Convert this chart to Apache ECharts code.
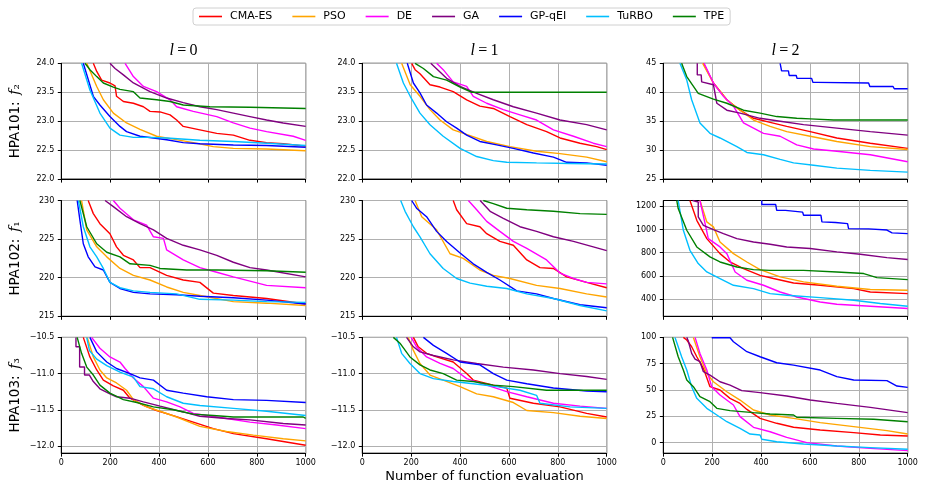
<!DOCTYPE html>
<html>
<head>
<meta charset="utf-8">
<script src="https://cdn.jsdelivr.net/npm/echarts@6/dist/echarts.min.js"></script>
<style>
  html, body { margin: 0; padding: 0; background: #fff; }
  #main { width: 927px; height: 494px; }
</style>
</head>
<body>
<div id="main"></div>
<script>
// methods, in plotting order
const methods = ["CMA-ES", "PSO", "DE", "GA", "GP-qEI", "TuRBO", "TPE"];
const colors = ["#ff0000", "#ffa500", "#ff00ff", "#800080", "#0000ff", "#00bfff", "#008000"];

const colTitles = ["0", "1", "2"];
const rowNames = ["HPA101:", "HPA102:", "HPA103:"];
const rowSubs = ["\u2082", "\u2081", "\u2083"];
const xTicks = [0, 200, 400, 600, 800, 1000];
const xLabel = "Number of function evaluation";

// y ranges / ticks for each panel (row by row)
const yRanges = [[22, 24], [22, 24], [25, 45], [215, 230], [215, 230], [250, 1250], [-12.1, -10.5], [-12.1, -10.5], [-10, 100]];
const yTicks = [
  [22, 22.5, 23, 23.5, 24], [22, 22.5, 23, 23.5, 24], [25, 30, 35, 40, 45],
  [215, 220, 225, 230], [215, 220, 225, 230], [400, 600, 800, 1000, 1200],
  [-12, -11.5, -11, -10.5], [-12, -11.5, -11, -10.5], [0, 25, 50, 75, 100],
];
const yDecimals = [1, 1, 0, 0, 0, 0, 1, 1, 0];

// best value so far, [evaluation, value], order = methods
const f2_l0 = [
  [[131,24.0],[145,23.86],[165,23.71],[199,23.66],[220,23.61],[226,23.43],[254,23.34],[295,23.31],[336,23.25],[363,23.17],[404,23.16],[445,23.11],[472,23.02],[499,22.91],[567,22.85],[636,22.79],[704,22.76],[772,22.67],[840,22.63],[908,22.61],[1000,22.57]],
  [[104,24.0],[145,23.6],[172,23.37],[213,23.14],[267,22.97],[322,22.86],[390,22.74],[458,22.69],[540,22.63],[622,22.56],[704,22.53],[840,22.52],[1000,22.49]],
  [[261,24.0],[295,23.77],[336,23.6],[390,23.51],[445,23.37],[472,23.25],[540,23.17],[636,23.08],[704,22.97],[772,22.88],[840,22.82],[949,22.74],[1000,22.67]],
  [[199,24.0],[220,23.91],[254,23.8],[295,23.66],[363,23.51],[431,23.4],[499,23.32],[567,23.25],[636,23.2],[704,23.14],[772,23.08],[840,23.02],[908,22.97],[1000,22.91]],
  [[90,24.0],[131,23.43],[158,23.28],[199,23.08],[240,22.91],[267,22.82],[322,22.74],[377,22.71],[431,22.68],[499,22.63],[567,22.61],[704,22.59],[840,22.58],[1000,22.55]],
  [[83,24.0],[117,23.54],[158,23.14],[199,22.88],[240,22.76],[295,22.72],[363,22.72],[431,22.71],[567,22.67],[704,22.65],[840,22.62],[1000,22.58]],
  [[97,24.0],[117,23.89],[145,23.77],[172,23.66],[213,23.59],[240,23.55],[295,23.51],[322,23.4],[390,23.37],[445,23.34],[499,23.28],[608,23.25],[772,23.24],[1000,23.22]],
];
const f2_l1 = [
  [[202,24.0],[216,23.89],[236,23.82],[277,23.63],[318,23.59],[372,23.51],[427,23.37],[481,23.26],[536,23.22],[604,23.08],[673,22.94],[754,22.82],[809,22.71],[891,22.62],[959,22.56],[1000,22.51]],
  [[161,24.0],[196,23.63],[236,23.43],[277,23.2],[318,23.02],[372,22.85],[441,22.75],[509,22.65],[604,22.56],[713,22.48],[809,22.44],[918,22.38],[1000,22.3]],
  [[304,24.0],[331,23.89],[372,23.68],[427,23.6],[454,23.43],[509,23.31],[577,23.2],[645,23.11],[713,23.02],[782,22.85],[864,22.74],[945,22.62],[1000,22.56]],
  [[280,24.0],[345,23.74],[400,23.6],[468,23.48],[536,23.37],[618,23.25],[713,23.14],[809,23.02],[918,22.94],[1000,22.85]],
  [[184,24.0],[209,23.66],[236,23.49],[263,23.28],[304,23.14],[345,22.99],[386,22.88],[427,22.76],[481,22.65],[550,22.59],[618,22.53],[700,22.45],[782,22.38],[836,22.29],[918,22.28],[1000,22.24]],
  [[140,24.0],[168,23.66],[196,23.43],[236,23.14],[277,22.94],[331,22.74],[400,22.53],[468,22.39],[536,22.32],[591,22.29],[713,22.28],[850,22.27],[1000,22.26]],
  [[216,24.0],[250,23.91],[291,23.77],[345,23.71],[400,23.59],[448,23.5],[1000,23.5]],
];
const f2_l2 = [
  [[164,45],[205,41.6],[260,38.7],[314,36.9],[369,35.5],[437,34.8],[505,34.1],[601,33.2],[710,32.1],[847,31.2],[1000,30.3]],
  [[161,45],[205,41.6],[260,38.7],[314,36.9],[369,35.2],[437,34.1],[505,33.2],[601,32.4],[710,31.5],[847,30.6],[1000,30.1]],
  [[167,45],[205,41.6],[246,39.3],[287,37.6],[328,34.7],[369,33.8],[410,32.9],[478,32.4],[546,30.9],[615,30.2],[710,29.8],[847,29.2],[1000,28.0]],
  [[139,45],[139,43.0],[155,43.0],[157,41.8],[205,41.3],[219,38.1],[260,36.9],[314,36.4],[396,35.5],[478,35.0],[574,34.4],[710,33.8],[847,33.2],[1000,32.6]],
  [[478,45],[484,43.7],[512,43.7],[515,42.9],[544,42.9],[547,42.4],[607,42.4],[612,41.7],[631,41.7],[636,41.6],[840,41.6],[845,41.0],[940,41.0],[945,40.6],[1000,40.6]],
  [[68,45],[96,42.1],[116,38.7],[150,34.7],[191,32.9],[232,32.1],[301,30.6],[342,29.6],[410,29.2],[478,28.4],[533,27.8],[615,27.4],[710,26.9],[847,26.5],[1000,26.2]],
  [[75,45],[96,42.7],[143,39.8],[205,38.8],[260,38.1],[328,36.9],[396,36.4],[464,35.8],[546,35.5],[601,35.4],[697,35.2],[1000,35.2]],
];
const f1_l0 = [
  [[110,230],[131,228.3],[158,227.0],[199,225.7],[226,224.0],[254,222.9],[295,222.3],[322,221.3],[363,221.3],[431,220.3],[499,219.7],[567,219.4],[622,218.0],[704,217.7],[840,217.3],[1000,216.6]],
  [[83,230],[104,226.2],[145,224.0],[186,222.7],[240,221.2],[295,220.3],[363,219.7],[431,218.8],[499,218.1],[567,217.7],[704,216.9],[840,216.7],[1000,216.4]],
  [[213,230],[240,229.0],[295,227.5],[349,226.8],[377,225.3],[418,225.1],[431,223.6],[499,222.3],[567,221.3],[636,220.7],[704,220.1],[840,219.0],[1000,218.7]],
  [[179,230],[213,229.2],[267,227.9],[322,227.0],[377,226.2],[431,225.1],[499,224.2],[567,223.6],[636,222.9],[704,222.0],[772,221.3],[840,221.0],[1000,220.1]],
  [[65,230],[76,227.5],[90,224.4],[110,222.7],[138,221.4],[172,221.0],[199,219.4],[240,218.6],[295,218.1],[363,217.9],[472,217.8],[567,217.6],[704,217.4],[840,217.1],[1000,216.6]],
  [[70,230],[90,226.6],[117,224.0],[145,222.7],[172,221.2],[199,219.4],[240,218.7],[295,218.3],[363,218.1],[472,217.9],[567,217.2],[704,217.1],[840,216.9],[1000,216.8]],
  [[76,230],[104,226.6],[145,224.4],[186,223.3],[240,222.7],[281,221.8],[363,221.6],[404,221.2],[513,221.0],[636,221.0],[840,220.9],[1000,220.7]],
];
const f1_l1 = [
  [[372,230],[386,228.8],[427,227.0],[481,226.6],[509,225.7],[563,224.7],[618,224.2],[673,222.3],[727,221.3],[782,221.2],[836,220.1],[918,219.4],[1000,218.7]],
  [[216,230],[243,227.9],[304,226.2],[359,223.1],[413,222.5],[481,221.0],[536,220.3],[604,219.9],[713,219.0],[809,218.6],[918,217.9],[1000,217.5]],
  [[434,230],[468,228.8],[509,227.3],[563,226.0],[618,224.7],[673,223.8],[754,222.3],[809,220.6],[864,219.9],[918,219.4],[1000,219.2]],
  [[482,230],[523,228.6],[577,227.7],[645,226.6],[713,226.0],[782,225.3],[864,224.7],[945,224.0],[1000,223.5]],
  [[202,230],[222,229.0],[263,227.9],[304,226.0],[345,224.7],[400,223.2],[454,221.8],[509,220.7],[563,219.7],[632,218.3],[713,217.9],[782,217.3],[891,216.5],[1000,216.1]],
  [[157,230],[175,228.6],[209,226.6],[236,225.3],[277,223.1],[331,221.2],[386,219.9],[441,219.3],[509,218.9],[591,218.6],[673,217.9],[782,217.3],[891,216.4],[1000,215.7]],
  [[495,230],[536,229.6],[591,229.0],[673,228.8],[782,228.6],[891,228.3],[1000,228.2]],
];
const f1_l2 = [
  [[109,1250],[137,1079],[178,921],[232,791],[273,719],[328,662],[396,604],[451,576],[533,538],[642,518],[779,489],[847,460],[1000,446]],
  [[150,1250],[178,1065],[205,1022],[232,892],[287,791],[342,719],[396,653],[478,590],[574,547],[710,509],[847,481],[1000,475]],
  [[150,1250],[171,1050],[184,921],[232,849],[260,791],[294,633],[342,561],[410,518],[478,460],[546,417],[642,374],[710,354],[847,337],[1000,317]],
  [[120,1250],[143,1237],[143,1108],[164,1036],[205,998],[246,964],[301,921],[369,892],[437,872],[505,849],[601,835],[710,806],[806,786],[915,757],[1000,740]],
  [[403,1250],[403,1215],[460,1215],[464,1165],[500,1165],[505,1150],[570,1150],[574,1122],[645,1122],[649,1065],[705,1060],[710,1050],[754,1050],[758,1007],[840,1005],[915,995],[936,970],[1000,964]],
  [[61,1250],[82,993],[109,820],[143,705],[178,633],[232,576],[287,518],[369,489],[437,446],[505,432],[642,411],[779,388],[888,360],[1000,337]],
  [[55,1250],[61,1180],[96,993],[137,849],[191,763],[232,719],[301,676],[369,653],[437,647],[574,647],[710,633],[820,619],[874,584],[1000,567]],
];
const f3_l0 = [
  [[90,-10.5],[117,-10.77],[145,-10.95],[172,-11.09],[213,-11.17],[254,-11.23],[281,-11.34],[336,-11.44],[390,-11.51],[458,-11.58],[540,-11.67],[622,-11.76],[704,-11.83],[840,-11.9],[1000,-11.99]],
  [[106,-10.5],[131,-10.77],[158,-10.95],[186,-11.06],[226,-11.13],[267,-11.23],[295,-11.36],[349,-11.46],[404,-11.52],[472,-11.6],[567,-11.73],[676,-11.8],[786,-11.85],[908,-11.9],[1000,-11.93]],
  [[124,-10.5],[158,-10.65],[199,-10.77],[240,-10.84],[261,-10.93],[295,-11.06],[336,-11.18],[377,-11.34],[431,-11.39],[486,-11.46],[540,-11.55],[636,-11.6],[772,-11.67],[881,-11.71],[1000,-11.76]],
  [[60,-10.5],[60,-10.63],[75,-10.63],[75,-10.91],[95,-10.91],[95,-11.02],[115,-11.02],[131,-11.11],[158,-11.21],[199,-11.28],[226,-11.32],[281,-11.34],[336,-11.39],[404,-11.45],[499,-11.53],[567,-11.59],[676,-11.62],[772,-11.64],[908,-11.69],[1000,-11.71]],
  [[117,-10.5],[145,-10.7],[186,-10.84],[226,-10.93],[281,-11.0],[322,-11.06],[377,-11.09],[431,-11.23],[499,-11.27],[595,-11.32],[704,-11.36],[840,-11.37],[1000,-11.4]],
  [[104,-10.5],[115,-10.68],[145,-10.8],[186,-10.89],[240,-10.98],[295,-11.05],[322,-11.18],[377,-11.21],[431,-11.32],[499,-11.41],[567,-11.44],[704,-11.48],[840,-11.52],[1000,-11.58]],
  [[65,-10.5],[83,-10.72],[104,-10.91],[131,-11.02],[158,-11.16],[199,-11.27],[254,-11.36],[309,-11.4],[377,-11.46],[458,-11.5],[540,-11.56],[622,-11.58],[704,-11.6],[990,-11.6],[1000,-11.62]],
];
const f3_l1 = [
  [[209,-10.5],[229,-10.63],[263,-10.72],[304,-10.77],[372,-10.84],[427,-11.0],[454,-11.09],[536,-11.16],[591,-11.2],[604,-11.34],[700,-11.41],[809,-11.46],[918,-11.55],[1000,-11.6]],
  [[188,-10.5],[209,-10.68],[236,-10.86],[277,-11.02],[331,-11.09],[400,-11.18],[468,-11.28],[536,-11.32],[618,-11.4],[673,-11.51],[782,-11.54],[891,-11.59],[1000,-11.62]],
  [[200,-10.5],[222,-10.63],[263,-10.77],[318,-10.86],[372,-10.93],[427,-11.07],[509,-11.16],[591,-11.25],[673,-11.32],[782,-11.41],[891,-11.45],[1000,-11.48]],
  [[181,-10.5],[209,-10.63],[236,-10.7],[291,-10.75],[372,-10.81],[468,-10.86],[577,-10.91],[700,-10.95],[809,-11.0],[918,-11.04],[1000,-11.08]],
  [[250,-10.5],[291,-10.61],[345,-10.72],[400,-10.84],[481,-10.88],[536,-11.0],[591,-11.09],[673,-11.14],[782,-11.2],[918,-11.24],[1000,-11.25]],
  [[140,-10.5],[161,-10.72],[195,-10.86],[236,-11.0],[291,-11.07],[372,-11.11],[454,-11.14],[550,-11.18],[645,-11.23],[713,-11.3],[727,-11.41],[850,-11.46],[1000,-11.48]],
  [[127,-10.5],[154,-10.58],[195,-10.77],[236,-10.88],[277,-10.95],[331,-11.0],[386,-11.09],[454,-11.11],[536,-11.16],[618,-11.18],[754,-11.23],[1000,-11.23]],
];
const f3_l2 = [
  [[82,100],[96,97.5],[116,91.1],[137,81.6],[164,70.6],[191,53.2],[232,50.0],[273,42.1],[314,37.3],[342,31.6],[396,23.1],[464,18.4],[533,14.6],[642,12.0],[779,9.5],[888,7.3],[1000,6.3]],
  [[123,100],[150,81.6],[178,65.8],[205,57.9],[260,48.4],[314,40.5],[369,31.0],[437,26.3],[533,23.1],[642,19.0],[779,15.2],[915,11.4],[1000,8.2]],
  [[130,100],[150,84.8],[178,69.0],[198,53.2],[232,45.3],[287,35.8],[314,24.7],[369,14.6],[437,10.4],[505,5.1],[587,0.0],[710,-3.2],[847,-5.4],[1000,-7.6]],
  [[96,100],[102,96.8],[116,84.8],[130,79.4],[150,76.9],[164,67.4],[191,64.2],[232,57.9],[273,54.7],[321,49.4],[396,47.5],[505,44.3],[601,40.5],[710,37.3],[847,33.5],[1000,28.5]],
  [[198,99.6],[273,99.6],[287,95.9],[342,86.4],[396,81.6],[464,75.9],[533,73.7],[642,69.0],[710,62.7],[779,59.5],[915,58.9],[956,53.8],[1000,52.5]],
  [[48,100],[75,81.6],[96,69.0],[116,53.2],[137,42.1],[178,32.6],[219,26.3],[260,19.9],[314,13.6],[355,8.2],[396,7.3],[403,3.2],[464,0.9],[574,-1.3],[710,-3.2],[847,-4.7],[1000,-6.3]],
  [[38,100],[61,81.6],[82,69.0],[96,59.5],[123,53.2],[150,43.7],[191,38.9],[219,32.6],[273,30.4],[369,28.5],[437,27.2],[533,26.3],[546,24.1],[710,23.1],[861,22.2],[1000,19.9]],
];

const panels = [f2_l0, f2_l1, f2_l2, f1_l0, f1_l1, f1_l2, f3_l0, f3_l1, f3_l2];

// layout
const colLeft = [61.3, 362.3, 663.3];
const rowTop = [63.3, 200.5, 337.4];
const panelW = 244.4;
const panelH = 115.8;
const FONT = "DejaVu Sans";

function fmt(v, d) {
  return (v < 0 ? "\u2212" : "") + Math.abs(v).toFixed(d);
}

const grids = [], xAxes = [], yAxes = [], series = [];
panels.forEach((panel, p) => {
  const r = Math.floor(p / 3), c = p % 3;
  grids.push({
    left: colLeft[c], top: rowTop[r], width: panelW, height: panelH,
    show: true, borderColor: "#000", borderWidth: 1, backgroundColor: "transparent",
  });
  xAxes.push({
    type: "value", gridIndex: p, min: 0, max: 1000,
    axisLabel: { show: r === 2, customValues: xTicks, fontSize: 8, fontFamily: FONT, color: "#000", margin: 6,
      formatter: (v) => String(v) },
    axisTick: { customValues: xTicks, length: 3.5, lineStyle: { color: "#000" } },
    axisLine: { show: true, onZero: false, lineStyle: { color: "#000", width: 1 } },
    splitLine: { show: true, lineStyle: { color: "#b0b0b0", width: 1 } },
    name: p === 7 ? xLabel : "",
    nameLocation: "middle", nameGap: 17,
    nameTextStyle: { fontSize: 13, fontFamily: FONT, color: "#000", verticalAlign: "top" },
  });
  yAxes.push({
    type: "value", gridIndex: p, min: yRanges[p][0], max: yRanges[p][1],
    axisLabel: { customValues: yTicks[p], fontSize: 8, fontFamily: FONT, color: "#000", margin: 7,
      formatter: (v) => fmt(v, yDecimals[p]) },
    axisTick: { customValues: yTicks[p], length: 3.5, lineStyle: { color: "#000" } },
    axisLine: { show: true, onZero: false, lineStyle: { color: "#000", width: 1 } },
    splitLine: { show: true, lineStyle: { color: "#b0b0b0", width: 1 } },
  });
  panel.forEach((pts, m) => {
    series.push({
      name: methods[m], type: "line", xAxisIndex: p, yAxisIndex: p,
      data: pts, symbol: "none", showSymbol: false, clip: true, silent: true,
      color: colors[m],
      lineStyle: { color: colors[m], width: 1.4 },
      emphasis: { disabled: true },
    });
  });
});

const graphics = [];
colTitles.forEach((t, c) => {
  graphics.push({
    type: "text", x: colLeft[c] + panelW / 2, y: 51,
    style: {
      text: "{i|l}\u2009=\u2009{n|" + t + "}",
      rich: {
        i: { fontFamily: "Liberation Serif", fontStyle: "italic", fontSize: 16, fill: "#000" },
        n: { fontFamily: "Liberation Serif", fontSize: 16, fill: "#000" },
      },
      fontFamily: "Liberation Serif", fontSize: 16, fill: "#000",
      align: "center", verticalAlign: "middle",
    },
  });
});
rowNames.forEach((name, r) => {
  graphics.push({
    type: "text", x: 15, y: rowTop[r] + panelH / 2, rotation: Math.PI / 2,
    style: {
      text: "{a|" + name + "\u2002}{f|f}{s|" + rowSubs[r] + "}",
      rich: {
        a: { fontFamily: FONT, fontSize: 13.5, fill: "#000" },
        f: { fontFamily: "DejaVu Serif", fontStyle: "italic", fontSize: 14, fill: "#000" },
        s: { fontFamily: "DejaVu Serif", fontSize: 13.5, fill: "#000" },
      },
      align: "center", verticalAlign: "middle",
    },
  });
});

const chart = echarts.init(document.getElementById("main"), null, { renderer: "canvas" });
chart.setOption({
  animation: false,
  backgroundColor: "#fff",
  color: colors,
  legend: {
    data: methods, left: 193, top: 8, orient: "horizontal",
    icon: "rect", itemWidth: 23, itemHeight: 1.6, itemGap: 20, padding: [3, 6],
    borderColor: "#d0d0d0", borderWidth: 1, borderRadius: 3,
    selectedMode: false,
    textStyle: { fontSize: 11, fontFamily: FONT, color: "#000", padding: [0, 0, 0, 3] },
  },
  grid: grids,
  xAxis: xAxes,
  yAxis: yAxes,
  series: series,
  graphic: graphics,
});
</script>
</body>
</html>
